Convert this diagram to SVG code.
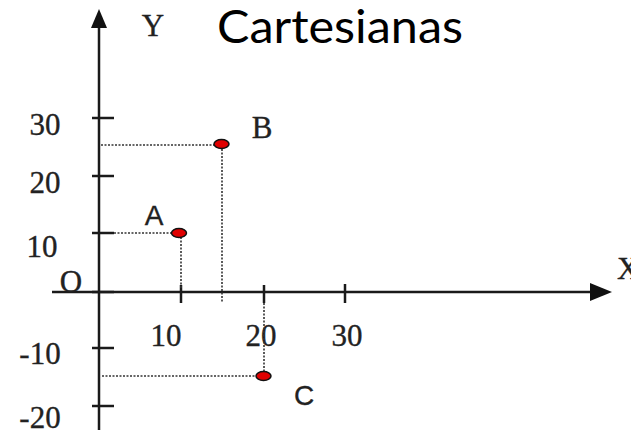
<svg xmlns="http://www.w3.org/2000/svg" width="631" height="430" viewBox="0 0 631 430">
<style>
.ax{stroke:#1a1a1a;stroke-width:2.5;fill:none}
.tk{stroke:#1a1a1a;stroke-width:2.5}
.dot{stroke:#333;stroke-width:1.6;stroke-dasharray:2 1.5;fill:none}
.pt{fill:#e00000;stroke:#111;stroke-width:1.5}
.ser{font-family:"Liberation Serif","Times New Roman",serif;font-size:31px;fill:#222;stroke:#222;stroke-width:0.35}
.san{font-family:"Liberation Sans",Arial,sans-serif;font-size:28px;fill:#222;stroke:#222;stroke-width:0.3}
.title{font-family:Lato,"Noto Sans",sans-serif;font-size:47px;fill:#000}
</style>
<rect width="631" height="430" fill="#fff"/>
<text class="title" x="217" y="43" textLength="246" lengthAdjust="spacingAndGlyphs">Cartesianas</text>
<g id="axes">
<line class="ax" x1="99" y1="26" x2="99" y2="430"/>
<polygon points="99,9 91,28 107,28" fill="#111"/>
<line class="ax" x1="52" y1="292" x2="592" y2="292"/>
<polygon points="612,292 590,283 590,301" fill="#111"/>
<line class="tk" x1="92" y1="118" x2="114" y2="118"/>
<line class="tk" x1="92" y1="176" x2="114" y2="176"/>
<line class="tk" x1="92" y1="233" x2="114" y2="233"/>
<line class="tk" x1="92" y1="292" x2="114" y2="292"/>
<line class="tk" x1="92" y1="348" x2="114" y2="348"/>
<line class="tk" x1="92" y1="406" x2="114" y2="406"/>
<line class="tk" x1="181" y1="285" x2="181" y2="303"/>
<line class="tk" x1="264" y1="285" x2="264" y2="303"/>
<line class="tk" x1="345" y1="284" x2="345" y2="303"/>
<text class="ser" x="153" y="36" text-anchor="middle">Y</text>
<text class="ser" x="617" y="279">X</text>
<text class="ser" x="45" y="135" text-anchor="middle">30</text>
<text class="ser" x="45" y="193" text-anchor="middle">20</text>
<text class="ser" x="42" y="257" text-anchor="middle">10</text>
<text class="ser" x="71" y="292" text-anchor="middle">O</text>
<text class="ser" x="40" y="364" text-anchor="middle">-10</text>
<text class="ser" x="40" y="428" text-anchor="middle">-20</text>
<text class="ser" x="166" y="346" text-anchor="middle">10</text>
<text class="ser" x="261" y="346" text-anchor="middle">20</text>
<text class="ser" x="347" y="346" text-anchor="middle">30</text>
</g>
<g id="connectors">
<line class="dot" x1="114" y1="233" x2="172" y2="233"/>
<line class="dot" x1="181" y1="237" x2="181" y2="288"/>
<line class="dot" x1="101" y1="145" x2="214" y2="145"/>
<line class="dot" x1="222" y1="149" x2="222" y2="303"/>
<line class="dot" x1="102" y1="376" x2="256" y2="376"/>
<line class="dot" x1="264" y1="303" x2="264" y2="371"/>
</g>
<g id="A">
<ellipse class="pt" cx="179" cy="233" rx="7.5" ry="4.5"/>
<text class="san" x="154" y="225" text-anchor="middle">A</text>
</g>
<g id="B">
<ellipse class="pt" cx="221.5" cy="144" rx="7.5" ry="4.5"/>
<text class="ser" x="262" y="138" text-anchor="middle">B</text>
</g>
<g id="C">
<ellipse class="pt" cx="263.5" cy="376" rx="7.5" ry="4.5"/>
<text class="san" x="304" y="405" text-anchor="middle" font-size="30">C</text>
</g>
</svg>
